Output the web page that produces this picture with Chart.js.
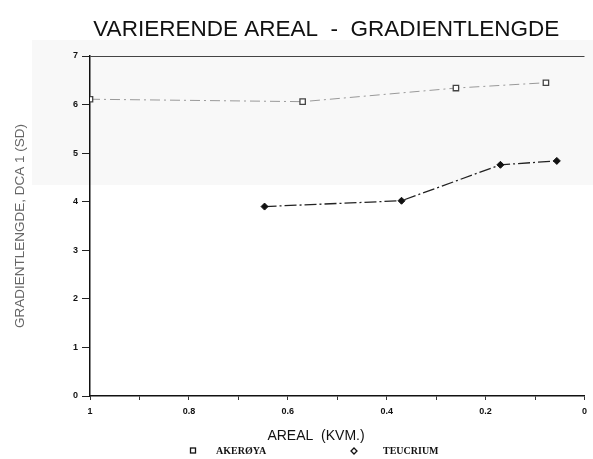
<!DOCTYPE html>
<html lang="no">
<head>
    <meta charset="UTF-8">
    <title>Varierende areal - gradientlengde</title>
    <script src="https://cdn.jsdelivr.net/npm/chart.js@4.4.1/dist/chart.umd.min.js"></script>
    <style>
        body { margin: 0; background: #fff; }
        #chart { display: block; }
    </style>
</head>
<body>
    <canvas id="chart" width="593" height="459"></canvas>

    <script>
        // --- data ---
        const seriesNames = ['AKERØYA', 'TEUCRIUM'];
        const akerArea = [1, 0.57, 0.26, 0.078];
        const akerLength = [6.11, 6.06, 6.34, 6.45];
        const teucArea = [0.647, 0.37, 0.17, 0.056];
        const teucLength = [3.9, 4.02, 4.76, 4.84];
        const yTicks = [0, 1, 2, 3, 4, 5, 6, 7];

        const toPoints = (xs, ys) => xs.map((x, i) => ({ x: x, y: ys[i] }));

        Chart.defaults.font.family = '"Liberation Sans", Arial, sans-serif';
        Chart.defaults.color = '#111';

        // the scan has a faint grey band over the upper part of the page
        const paper = {
            id: 'paper',
            beforeDraw(chart) {
                const ctx = chart.ctx;
                ctx.save();
                ctx.fillStyle = '#f8f8f8';
                ctx.fillRect(32, 40, chart.width - 32, 145);
                ctx.restore();
            }
        };

        // title, x title + legend are drawn by hand so they sit where the scan has them
        const decorations = {
            id: 'decorations',
            afterDraw(chart) {
                const ctx = chart.ctx;
                const area = chart.chartArea;
                ctx.save();
                ctx.fillStyle = '#111';
                ctx.textBaseline = 'middle';
                ctx.textAlign = 'center';
                ctx.font = '22.5px "Liberation Sans", Arial, sans-serif';
                ctx.fillText('VARIERENDE AREAL  -  GRADIENTLENGDE', (area.left + area.right) / 2 - 11, 30);

                ctx.font = '14px "Liberation Sans", Arial, sans-serif';
                ctx.fillText('AREAL  (KVM.)', area.left + 226, 436);

                // legend row
                const y = 451;
                ctx.textAlign = 'left';
                ctx.font = 'bold 10px "Liberation Serif", serif';
                ctx.lineWidth = 1.3;
                ctx.strokeStyle = '#111';
                ctx.strokeRect(190.5, y - 3, 5, 5);
                ctx.fillText(seriesNames[0], 216, y);
                ctx.beginPath();
                ctx.moveTo(354, y - 3); ctx.lineTo(357, y); ctx.lineTo(354, y + 3); ctx.lineTo(351, y);
                ctx.closePath();
                ctx.stroke();
                ctx.fillText(seriesNames[1], 383, y);
                ctx.restore();
            }
        };

        new Chart(document.getElementById('chart'), {
            type: 'line',
            data: {
                datasets: [{
                    label: seriesNames[0],
                    data: toPoints(akerArea, akerLength),
                    borderColor: '#999',
                    borderWidth: 1,
                    borderDash: [10, 4, 2, 4],
                    pointStyle: 'rect',
                    pointRadius: 3.8,
                    pointBackgroundColor: '#fff',
                    pointBorderColor: '#444',
                    pointBorderWidth: 1.3,
                    tension: 0
                }, {
                    label: seriesNames[1],
                    data: toPoints(teucArea, teucLength),
                    borderColor: '#222',
                    borderWidth: 1.3,
                    borderDash: [12, 3, 2, 3],
                    pointStyle: 'rectRot',
                    pointRadius: 3.5,
                    pointBackgroundColor: '#111',
                    pointBorderColor: '#111',
                    pointBorderWidth: 1,
                    tension: 0
                }]
            },
            options: {
                responsive: false,
                animation: false,
                layout: { autoPadding: false, padding: { top: 56, right: 1, bottom: 16, left: 0 } },
                plugins: {
                    legend: { display: false },
                    title: { display: false },
                    tooltip: { enabled: false }
                },
                scales: {
                    x: {
                        type: 'linear',
                        min: 0,
                        max: 1,
                        reverse: true,
                        afterFit: (scale) => { scale.height = 47; },
                        border: { color: '#111', width: 1.5 },
                        grid: { drawOnChartArea: false, tickLength: 4, tickColor: '#333' },
                        ticks: {
                            stepSize: 0.1,
                            padding: 6,
                            maxRotation: 0,
                            autoSkip: false,
                            font: { size: 9, weight: 'bold' },
                            callback: (v) => {
                                const t = Math.round(v * 10);
                                return t % 2 === 0 ? String(t / 10) : '';
                            }
                        }
                    },
                    y: {
                        min: 0,
                        max: 7,
                        afterFit: (scale) => { scale.width = 90; },
                        afterBuildTicks: (scale) => { scale.ticks = yTicks.map(v => ({ value: v })); },
                        border: { color: '#111', width: 1.5 },
                        grid: {
                            drawOnChartArea: true,
                            tickLength: 8,
                            tickColor: '#222',
                            color: (c) => (c.tick && c.tick.value === 7 ? '#444' : 'transparent')
                        },
                        ticks: { padding: 4, font: { size: 9, weight: 'bold' } },
                        title: {
                            display: true,
                            text: 'GRADIENTLENGDE, DCA 1 (SD)',
                            font: { size: 13.5 },
                            color: '#666',
                            padding: { top: 12, bottom: 0 }
                        }
                    }
                }
            },
            plugins: [paper, decorations]
        });
    </script>
</body>
</html>
